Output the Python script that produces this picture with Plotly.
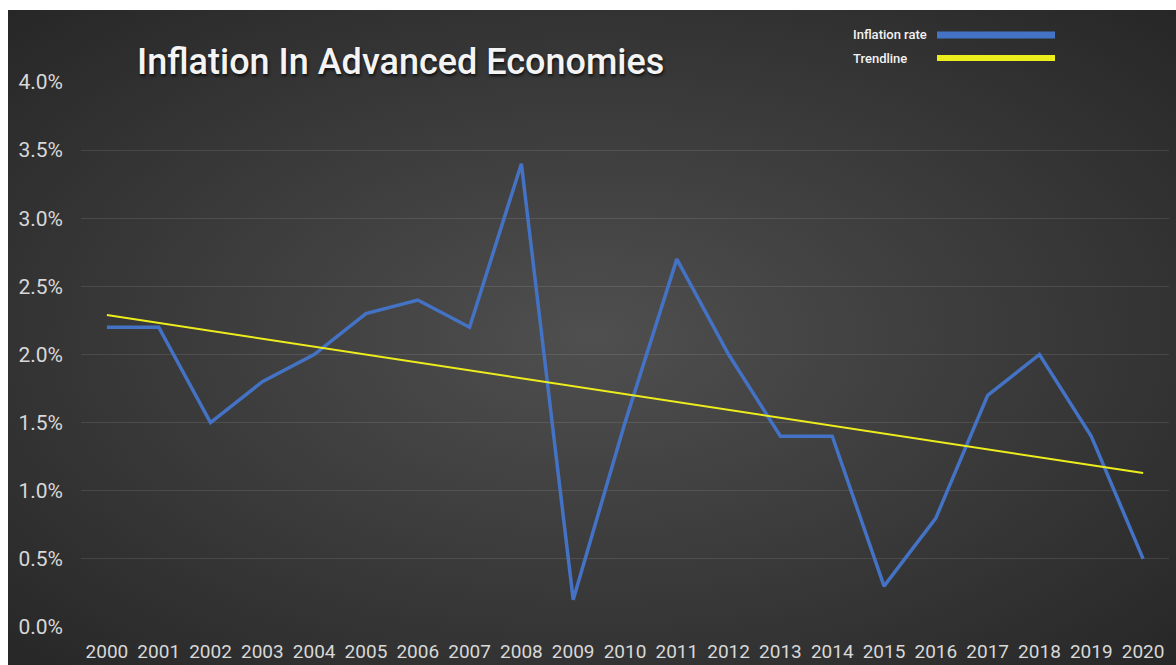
import base64
import plotly.graph_objects as go

years = [str(y) for y in range(2000, 2021)]
inflation = [2.2, 2.2, 1.5, 1.8, 2.0, 2.3, 2.4, 2.2, 3.4, 0.2, 1.5,
             2.7, 2.0, 1.4, 1.4, 0.3, 0.8, 1.7, 2.0, 1.4, 0.5]
trend_years = ["2000", "2020"]
trend_values = [2.29, 1.13]
y_ticks = [0.0, 0.5, 1.0, 1.5, 2.0, 2.5, 3.0, 3.5, 4.0]

W, H = 1176, 665
L, R, T, B = 81, 7, 82, 38
pw, ph = W - L - R, H - T - B

BLUE = "#4472C4"
YELLOW = "#EDED1E"

svg = ("<svg xmlns='http://www.w3.org/2000/svg' width='1168' height='655' preserveAspectRatio='none'>"
       "<defs><radialGradient id='g' cx='50%' cy='50%' r='72%'>"
       "<stop offset='0' stop-color='#4f4f4f'/><stop offset='1' stop-color='#262626'/>"
       "</radialGradient></defs><rect width='100%' height='100%' fill='url(#g)'/></svg>")
bg_src = "data:image/svg+xml;base64," + base64.b64encode(svg.encode()).decode()

def px_x(x):
    return (x - L) / pw

def px_y(y):
    return (H - B - y) / ph

fig = go.Figure()
fig.add_trace(go.Scatter(x=years, y=inflation, mode="lines", name="Inflation rate",
                         line=dict(color=BLUE, width=3.5)))
fig.add_trace(go.Scatter(x=trend_years, y=trend_values, mode="lines", name="Trendline",
                         line=dict(color=YELLOW, width=2)))

fig.add_layout_image(dict(source=bg_src, xref="paper", yref="paper",
                          x=px_x(8), y=px_y(10), sizex=(W - 8) / pw, sizey=(H - 10) / ph,
                          xanchor="left", yanchor="top", sizing="stretch", layer="below"))

# manual legend
for label, color, yc, hgt in [("Inflation rate", BLUE, 35, 7), ("Trendline", YELLOW, 58, 6)]:
    fig.add_annotation(text=label, xref="paper", yref="paper", x=px_x(851), y=px_y(yc),
                       xanchor="left", yanchor="middle", showarrow=False,
                       font=dict(family="Roboto", size=13, color="#f2f2f2", weight=500))
    fig.add_shape(type="rect", xref="paper", yref="paper",
                  x0=px_x(937), x1=px_x(1055), y0=px_y(yc - hgt / 2), y1=px_y(yc + hgt / 2),
                  fillcolor=color, line=dict(width=0))

fig.add_annotation(text="Inflation In Advanced Economies", xref="paper", yref="paper",
                   x=px_x(400), y=px_y(62), xanchor="center", yanchor="middle", showarrow=False,
                   font=dict(family="Roboto", size=36, color="#f4f4f4", weight=500,
                             shadow="1px 2px 3px rgba(0,0,0,0.7)"))

fig.update_layout(
    width=W, height=H,
    margin=dict(l=L, r=R, t=T, b=B, autoexpand=False),
    paper_bgcolor="white",
    plot_bgcolor="rgba(0,0,0,0)",
    showlegend=False,
    font=dict(family="Roboto", color="#d6d6d6"),
    xaxis=dict(type="category", range=[-0.5, 20.5], showgrid=False, zeroline=False,
               showline=False, ticks="", tickfont=dict(size=19, color="#d8d8d8"),
               ticklabelstandoff=11, automargin=False),
    yaxis=dict(range=[0, 4.0], tickvals=y_ticks, ticktext=[f"{v:.1f}%" for v in y_ticks],
               showgrid=True, gridcolor="rgba(255,255,255,0.10)", gridwidth=1,
               zeroline=False, showline=False, ticks="", automargin=False,
               tickfont=dict(size=21, color="#d8d8d8"), ticklabelstandoff=17),
)

fig.write_html("out.html")
